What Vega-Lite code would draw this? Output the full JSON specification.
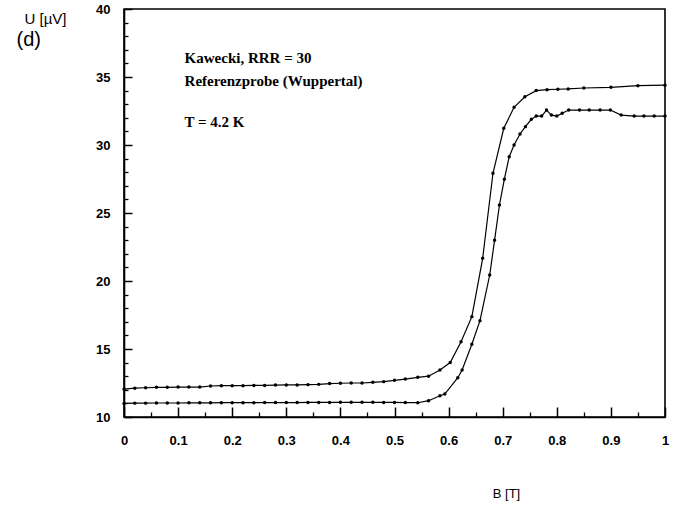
{
  "$schema": "https://vega.github.io/schema/vega-lite/v6.json",
  "width": 541,
  "height": 408,
  "autosize": "none",
  "padding": {"left": 124, "top": 9, "right": 15, "bottom": 91},
  "background": "white",
  "config": {
    "view": {"stroke": "#000000", "strokeWidth": 1.6},
    "axis": {"domainColor": "#000000", "tickColor": "#000000", "tickOpacity": 1, "labelColor": "#000000", "titleColor": "#000000", "grid": false, "labelFont": "Liberation Sans", "titleFont": "Liberation Sans"}
  },
  "datasets": {
    "curves": [
      {"B": 0.0, "U": 12.05, "series": "upper"},
      {"B": 0.02, "U": 12.12, "series": "upper"},
      {"B": 0.04, "U": 12.15, "series": "upper"},
      {"B": 0.06, "U": 12.18, "series": "upper"},
      {"B": 0.08, "U": 12.18, "series": "upper"},
      {"B": 0.1, "U": 12.2, "series": "upper"},
      {"B": 0.12, "U": 12.2, "series": "upper"},
      {"B": 0.14, "U": 12.2, "series": "upper"},
      {"B": 0.16, "U": 12.28, "series": "upper"},
      {"B": 0.18, "U": 12.3, "series": "upper"},
      {"B": 0.2, "U": 12.3, "series": "upper"},
      {"B": 0.22, "U": 12.3, "series": "upper"},
      {"B": 0.24, "U": 12.32, "series": "upper"},
      {"B": 0.26, "U": 12.32, "series": "upper"},
      {"B": 0.28, "U": 12.35, "series": "upper"},
      {"B": 0.3, "U": 12.36, "series": "upper"},
      {"B": 0.32, "U": 12.36, "series": "upper"},
      {"B": 0.34, "U": 12.38, "series": "upper"},
      {"B": 0.36, "U": 12.4, "series": "upper"},
      {"B": 0.38, "U": 12.46, "series": "upper"},
      {"B": 0.4, "U": 12.48, "series": "upper"},
      {"B": 0.42, "U": 12.5, "series": "upper"},
      {"B": 0.44, "U": 12.5, "series": "upper"},
      {"B": 0.46, "U": 12.55, "series": "upper"},
      {"B": 0.48, "U": 12.6, "series": "upper"},
      {"B": 0.5, "U": 12.7, "series": "upper"},
      {"B": 0.52, "U": 12.79, "series": "upper"},
      {"B": 0.543, "U": 12.92, "series": "upper"},
      {"B": 0.563, "U": 13.0, "series": "upper"},
      {"B": 0.584, "U": 13.46, "series": "upper"},
      {"B": 0.603, "U": 14.0, "series": "upper"},
      {"B": 0.623, "U": 15.54, "series": "upper"},
      {"B": 0.643, "U": 17.38, "series": "upper"},
      {"B": 0.663, "U": 21.67, "series": "upper"},
      {"B": 0.682, "U": 27.92, "series": "upper"},
      {"B": 0.702, "U": 31.23, "series": "upper"},
      {"B": 0.721, "U": 32.77, "series": "upper"},
      {"B": 0.741, "U": 33.55, "series": "upper"},
      {"B": 0.762, "U": 34.0, "series": "upper"},
      {"B": 0.782, "U": 34.07, "series": "upper"},
      {"B": 0.802, "U": 34.1, "series": "upper"},
      {"B": 0.821, "U": 34.12, "series": "upper"},
      {"B": 0.85, "U": 34.19, "series": "upper"},
      {"B": 0.9, "U": 34.24, "series": "upper"},
      {"B": 0.95, "U": 34.36, "series": "upper"},
      {"B": 1.0, "U": 34.4, "series": "upper"},
      {"B": 0.0, "U": 11.0, "series": "lower"},
      {"B": 0.02, "U": 11.02, "series": "lower"},
      {"B": 0.04, "U": 11.02, "series": "lower"},
      {"B": 0.06, "U": 11.03, "series": "lower"},
      {"B": 0.08, "U": 11.03, "series": "lower"},
      {"B": 0.1, "U": 11.03, "series": "lower"},
      {"B": 0.12, "U": 11.04, "series": "lower"},
      {"B": 0.14, "U": 11.04, "series": "lower"},
      {"B": 0.16, "U": 11.04, "series": "lower"},
      {"B": 0.18, "U": 11.05, "series": "lower"},
      {"B": 0.2, "U": 11.05, "series": "lower"},
      {"B": 0.22, "U": 11.05, "series": "lower"},
      {"B": 0.24, "U": 11.05, "series": "lower"},
      {"B": 0.26, "U": 11.06, "series": "lower"},
      {"B": 0.28, "U": 11.06, "series": "lower"},
      {"B": 0.3, "U": 11.06, "series": "lower"},
      {"B": 0.32, "U": 11.06, "series": "lower"},
      {"B": 0.34, "U": 11.07, "series": "lower"},
      {"B": 0.36, "U": 11.07, "series": "lower"},
      {"B": 0.38, "U": 11.07, "series": "lower"},
      {"B": 0.4, "U": 11.08, "series": "lower"},
      {"B": 0.42, "U": 11.08, "series": "lower"},
      {"B": 0.44, "U": 11.08, "series": "lower"},
      {"B": 0.46, "U": 11.08, "series": "lower"},
      {"B": 0.48, "U": 11.07, "series": "lower"},
      {"B": 0.5, "U": 11.07, "series": "lower"},
      {"B": 0.52, "U": 11.06, "series": "lower"},
      {"B": 0.543, "U": 11.05, "series": "lower"},
      {"B": 0.563, "U": 11.2, "series": "lower"},
      {"B": 0.584, "U": 11.56, "series": "lower"},
      {"B": 0.593, "U": 11.69, "series": "lower"},
      {"B": 0.617, "U": 12.89, "series": "lower"},
      {"B": 0.625, "U": 13.46, "series": "lower"},
      {"B": 0.643, "U": 15.35, "series": "lower"},
      {"B": 0.658, "U": 17.08, "series": "lower"},
      {"B": 0.676, "U": 20.44, "series": "lower"},
      {"B": 0.685, "U": 23.0, "series": "lower"},
      {"B": 0.694, "U": 25.59, "series": "lower"},
      {"B": 0.703, "U": 27.48, "series": "lower"},
      {"B": 0.712, "U": 29.14, "series": "lower"},
      {"B": 0.721, "U": 30.0, "series": "lower"},
      {"B": 0.732, "U": 30.81, "series": "lower"},
      {"B": 0.742, "U": 31.35, "series": "lower"},
      {"B": 0.753, "U": 31.89, "series": "lower"},
      {"B": 0.762, "U": 32.13, "series": "lower"},
      {"B": 0.772, "U": 32.13, "series": "lower"},
      {"B": 0.781, "U": 32.57, "series": "lower"},
      {"B": 0.79, "U": 32.2, "series": "lower"},
      {"B": 0.8, "U": 32.13, "series": "lower"},
      {"B": 0.81, "U": 32.33, "series": "lower"},
      {"B": 0.822, "U": 32.57, "series": "lower"},
      {"B": 0.842, "U": 32.57, "series": "lower"},
      {"B": 0.86, "U": 32.57, "series": "lower"},
      {"B": 0.88, "U": 32.57, "series": "lower"},
      {"B": 0.899, "U": 32.57, "series": "lower"},
      {"B": 0.919, "U": 32.2, "series": "lower"},
      {"B": 0.943, "U": 32.13, "series": "lower"},
      {"B": 0.961, "U": 32.13, "series": "lower"},
      {"B": 0.98, "U": 32.13, "series": "lower"},
      {"B": 1.0, "U": 32.13, "series": "lower"}
    ]
  },
  "layer": [
    {
      "data": {"name": "curves"},
      "mark": {"type": "line", "color": "#000000", "strokeWidth": 1.2, "point": {"filled": true, "size": 12, "color": "#000000"}},
      "encoding": {
        "x": {"field": "B", "type": "quantitative", "scale": {"domain": [0, 1], "nice": false, "zero": false},
          "axis": {"orient": "top", "offset": -408, "title": "B [T]", "values": [0, 0.1, 0.2, 0.3, 0.4, 0.5, 0.6, 0.7, 0.8, 0.9, 1], "format": "~g", "tickSize": 10, "tickWidth": 1.5, "tickColor": "#000000", "domainWidth": 1.6, "labelPadding": -33, "labelBaseline": "middle", "labelFontSize": 13, "labelFontWeight": "bold", "labelFlush": false, "labelOverlap": false, "titleFontSize": 13, "titleFontWeight": "normal", "titleX": 382, "titleY": 76, "titleAlign": "center", "titleBaseline": "middle"}},
        "y": {"field": "U", "type": "quantitative", "scale": {"domain": [10, 40], "nice": false, "zero": false},
          "axis": {"orient": "right", "offset": -541, "title": "U [µV]", "values": [10, 15, 20, 25, 30, 35, 40], "tickSize": 8, "tickWidth": 1.5, "tickColor": "#000000", "domainWidth": 1.6, "labelPadding": -22, "labelAlign": "right", "labelBaseline": "middle", "labelFontSize": 13, "labelFontWeight": "bold", "labelFlush": false, "labelOverlap": false, "titleFontSize": 15, "titleFontWeight": "normal", "titleAngle": 0, "titleX": -79, "titleY": 9, "titleAlign": "center", "titleBaseline": "middle"}},
        "detail": {"field": "series"}
      }
    },
    {
      "data": {"name": "curves"},
      "mark": {"type": "point", "opacity": 0},
      "encoding": {
        "x": {"field": "B", "type": "quantitative", "axis": {"orient": "top", "offset": -408, "title": null, "labels": false, "domain": false, "tickColor": "#000000", "values": [0.05, 0.15, 0.25, 0.35, 0.45, 0.55, 0.65, 0.75, 0.85, 0.95], "tickSize": 5, "tickWidth": 1.3}},
        "y": {"field": "U", "type": "quantitative", "axis": {"orient": "right", "offset": -541, "title": null, "labels": false, "domain": false, "tickColor": "#000000", "values": [11, 12, 13, 14, 16, 17, 18, 19, 21, 22, 23, 24, 26, 27, 28, 29, 31, 32, 33, 34, 36, 37, 38, 39], "tickSize": 4, "tickWidth": 1.3}}
      }
    },
    {
      "data": {"values": [{}]},
      "mark": {"type": "text", "text": "Kawecki, RRR = 30", "font": "Liberation Serif", "fontSize": 15, "fontWeight": "bold", "align": "left", "baseline": "middle", "color": "#000000"},
      "encoding": {
        "x": {"datum": 0.112, "type": "quantitative", "axis": null},
        "y": {"datum": 36.4, "type": "quantitative", "axis": null}
      }
    },
    {
      "data": {"values": [{}]},
      "mark": {"type": "text", "text": "Referenzprobe (Wuppertal)", "font": "Liberation Serif", "fontSize": 15, "fontWeight": "bold", "align": "left", "baseline": "middle", "color": "#000000"},
      "encoding": {
        "x": {"datum": 0.112, "type": "quantitative", "axis": null},
        "y": {"datum": 34.71, "type": "quantitative", "axis": null}
      }
    },
    {
      "data": {"values": [{}]},
      "mark": {"type": "text", "text": "T = 4.2 K", "font": "Liberation Serif", "fontSize": 15, "fontWeight": "bold", "align": "left", "baseline": "middle", "color": "#000000"},
      "encoding": {
        "x": {"datum": 0.112, "type": "quantitative", "axis": null},
        "y": {"datum": 31.69, "type": "quantitative", "axis": null}
      }
    },
    {
      "data": {"values": [{}]},
      "mark": {"type": "text", "text": "(d)", "font": "Liberation Sans", "fontSize": 20, "align": "center", "baseline": "middle", "color": "#000000"},
      "encoding": {
        "x": {"datum": -0.176, "type": "quantitative", "axis": null},
        "y": {"datum": 37.7, "type": "quantitative", "axis": null}
      }
    }
  ],
  "resolve": {"axis": {"x": "independent", "y": "independent"}}
}
